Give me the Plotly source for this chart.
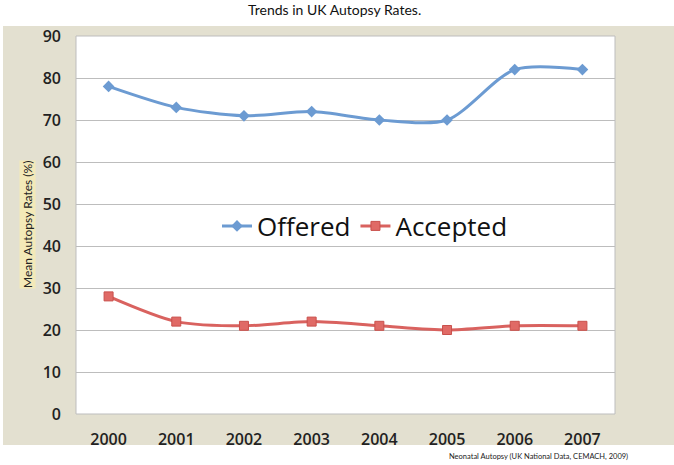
import plotly.graph_objects as go

years = ["2000", "2001", "2002", "2003", "2004", "2005", "2006", "2007"]
offered = [78, 73, 71, 72, 70, 70, 82, 82]
accepted = [28, 22, 21, 22, 21, 20, 21, 21]
y_ticks = [0, 10, 20, 30, 40, 50, 60, 70, 80, 90]

W, H = 674, 465
L, R, T, B = 76, 59, 36, 51
pw, ph = W - L - R, H - T - B

def px_x(x):
    return (x - L) / pw

def px_y(y):
    return (H - B - y) / ph

fig = go.Figure()
fig.add_trace(go.Scatter(
    x=years, y=offered, name="Offered", mode="lines+markers",
    line=dict(color="#6C9BD2", width=3, shape="spline", smoothing=0.8),
    marker=dict(symbol="diamond", size=9, color="#6C9BD2"),
))
fig.add_trace(go.Scatter(
    x=years, y=accepted, name="Accepted", mode="lines+markers",
    line=dict(color="#D9625F", width=3, shape="spline", smoothing=0.8),
    marker=dict(symbol="square", size=9, color="#E06A66",
                line=dict(color="#C9504C", width=1)),
))

fig.add_shape(type="rect", xref="paper", yref="paper", layer="below",
              x0=px_x(3), x1=px_x(676), y0=px_y(445), y1=px_y(26),
              fillcolor="#E3E0D0", line=dict(width=0))
fig.add_shape(type="rect", xref="paper", yref="paper", layer="below",
              x0=0, x1=1, y0=0, y1=1,
              fillcolor="white", line=dict(color="#BDBDBD", width=1))

fig.add_annotation(text="Trends in UK Autopsy Rates.", xref="paper", yref="paper",
                   x=px_x(334), y=px_y(9), xanchor="center", yanchor="middle",
                   showarrow=False,
                   font=dict(family="Lato, sans-serif", size=14, color="#111"))
fig.add_annotation(text="Mean Autopsy Rates (%)", xref="paper", yref="paper",
                   x=px_x(27), y=px_y(225), xanchor="center", yanchor="middle",
                   textangle=-90, showarrow=False,
                   bgcolor="#F3E9B8", borderpad=0,
                   font=dict(family="Lato, sans-serif", size=12, color="#222"))
fig.add_annotation(text="Neonatal Autopsy (UK National Data, CEMACH, 2009)",
                   xref="paper", yref="paper", x=px_x(630), y=px_y(456),
                   xanchor="right", yanchor="middle", showarrow=False,
                   font=dict(family="Lato, sans-serif", size=7.5, color="#222"))

fig.update_layout(
    width=W, height=H,
    margin=dict(l=L, r=R, t=T, b=B, autoexpand=False),
    paper_bgcolor="white", plot_bgcolor="white",
    showlegend=True,
    legend=dict(orientation="h", x=px_x(217), y=px_y(226), yanchor="middle",
                xanchor="left", bgcolor="rgba(0,0,0,0)",
                font=dict(family="Open Sans, sans-serif", size=26, color="#111"),
                itemwidth=30),
    xaxis=dict(type="category", showgrid=False, ticks="", showline=False,
               automargin=False,
               tickfont=dict(family="Open Sans, sans-serif", size=16, color="#222",
                             weight=600),
               ticklabelstandoff=14),
    yaxis=dict(range=[0, 90], tickvals=y_ticks, showgrid=True, gridcolor="#BDBDBD",
               gridwidth=1, zeroline=False, showline=False, automargin=False,
               tickfont=dict(family="Open Sans, sans-serif", size=16, color="#222",
                             weight=600),
               ticklabelstandoff=14),
)

fig.write_html("out.html", config={"displayModeBar": False})

with open("out.html", "r", encoding="utf-8") as f:
    html = f.read()
html = html.replace("<body>", '<body style="margin:0;padding:0;">', 1)
with open("out.html", "w", encoding="utf-8") as f:
    f.write(html)
